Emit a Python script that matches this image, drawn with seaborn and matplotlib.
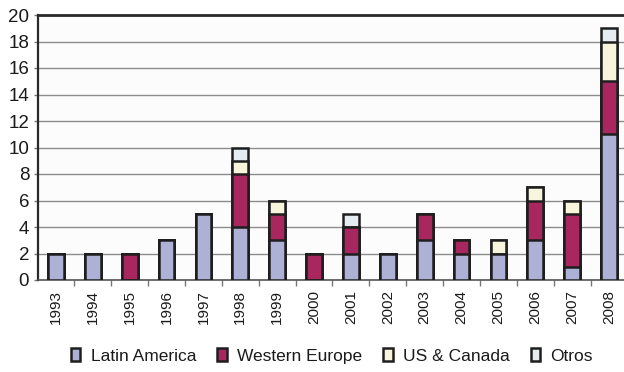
import numpy as np
import pandas as pd
import matplotlib
matplotlib.use("Agg")
import matplotlib.pyplot as plt
from matplotlib.patches import Patch
from matplotlib.ticker import FixedLocator
import seaborn as sns

years = ["1993", "1994", "1995", "1996", "1997", "1998", "1999", "2000",
         "2001", "2002", "2003", "2004", "2005", "2006", "2007", "2008"]
latin_america = [2, 2, 0, 3, 5, 4, 3, 0, 2, 2, 3, 2, 2, 3, 1, 11]
western_europe = [0, 0, 2, 0, 0, 4, 2, 2, 2, 0, 2, 1, 0, 3, 4, 4]
us_canada = [0, 0, 0, 0, 0, 1, 1, 0, 0, 0, 0, 0, 1, 1, 1, 3]
otros = [0, 0, 0, 0, 0, 1, 0, 0, 1, 0, 0, 0, 0, 0, 0, 1]

series_names = ["Latin America", "Western Europe", "US & Canada", "Otros"]
series_colors = ["#adb1d6", "#a8275f", "#f7f6dc", "#e6edf1"]
y_ticks = list(range(0, 21, 2))

sns.set_theme(style="white")
plt.rcParams["font.family"] = ["Liberation Sans", "DejaVu Sans"]

df = pd.DataFrame({
    "year": years,
    "Latin America": latin_america,
    "Western Europe": western_europe,
    "US & Canada": us_canada,
    "Otros": otros,
})
# cumulative heights for stacking: draw tallest layer first, then overlay
cum = df[series_names].cumsum(axis=1)

fig = plt.figure(figsize=(6.24, 3.72), dpi=100)
ax = fig.add_axes([37.5 / 624, 1 - 280 / 372, (627.5 - 37.5) / 624, (280 - 15) / 372])
ax.set_facecolor("#fcfcfc")

edge = "#1e1e1e"
for name, color in reversed(list(zip(series_names, series_colors))):
    sns.barplot(x=df["year"], y=cum[name], order=years, color=color,
                width=0.43, edgecolor=edge, linewidth=1.8, saturation=1,
                ax=ax, zorder=3)

ax.set_ylim(0, 20)
ax.set_xlim(-0.5, len(years) - 0.5)
ax.set_yticks(y_ticks)
ax.set_xlabel("")
ax.set_ylabel("")

# gridlines
ax.yaxis.grid(True, color="#8c8c8c", linewidth=1.0, zorder=0)
ax.set_axisbelow(True)

# spines
ax.spines["right"].set_visible(False)
ax.spines["top"].set_color("#2a2a2a")
ax.spines["top"].set_linewidth(2.0)
ax.spines["left"].set_color("#2a2a2a")
ax.spines["left"].set_linewidth(1.6)
ax.spines["bottom"].set_color("#555555")
ax.spines["bottom"].set_linewidth(1.2)

# ticks
ax.tick_params(axis="y", which="major", left=True, length=3, width=1,
               color="#777777", labelsize=13.5, labelcolor="#1a1a1a", pad=3)
ax.tick_params(axis="x", which="major", bottom=False, length=0,
               labelsize=11, labelcolor="#1a1a1a", pad=7)
ax.set_xticks(range(len(years)))
ax.set_xticklabels(years, rotation=90)
ax.xaxis.set_minor_locator(FixedLocator(np.arange(0.5, len(years) - 0.5, 1)))
ax.tick_params(axis="x", which="minor", bottom=True, length=4, width=1,
               color="#777777")

handles = [Patch(facecolor=c, edgecolor=edge, linewidth=1.8) for c in series_colors]
fig.legend(handles, series_names, loc="center", bbox_to_anchor=(0.532, 0.043),
           ncol=4, frameon=False, fontsize=12.5, handlelength=0.55,
           handleheight=0.8, handletextpad=0.6, columnspacing=1.2,
           labelcolor="#1a1a1a")

fig.savefig("out.png", dpi=100, facecolor="white")
